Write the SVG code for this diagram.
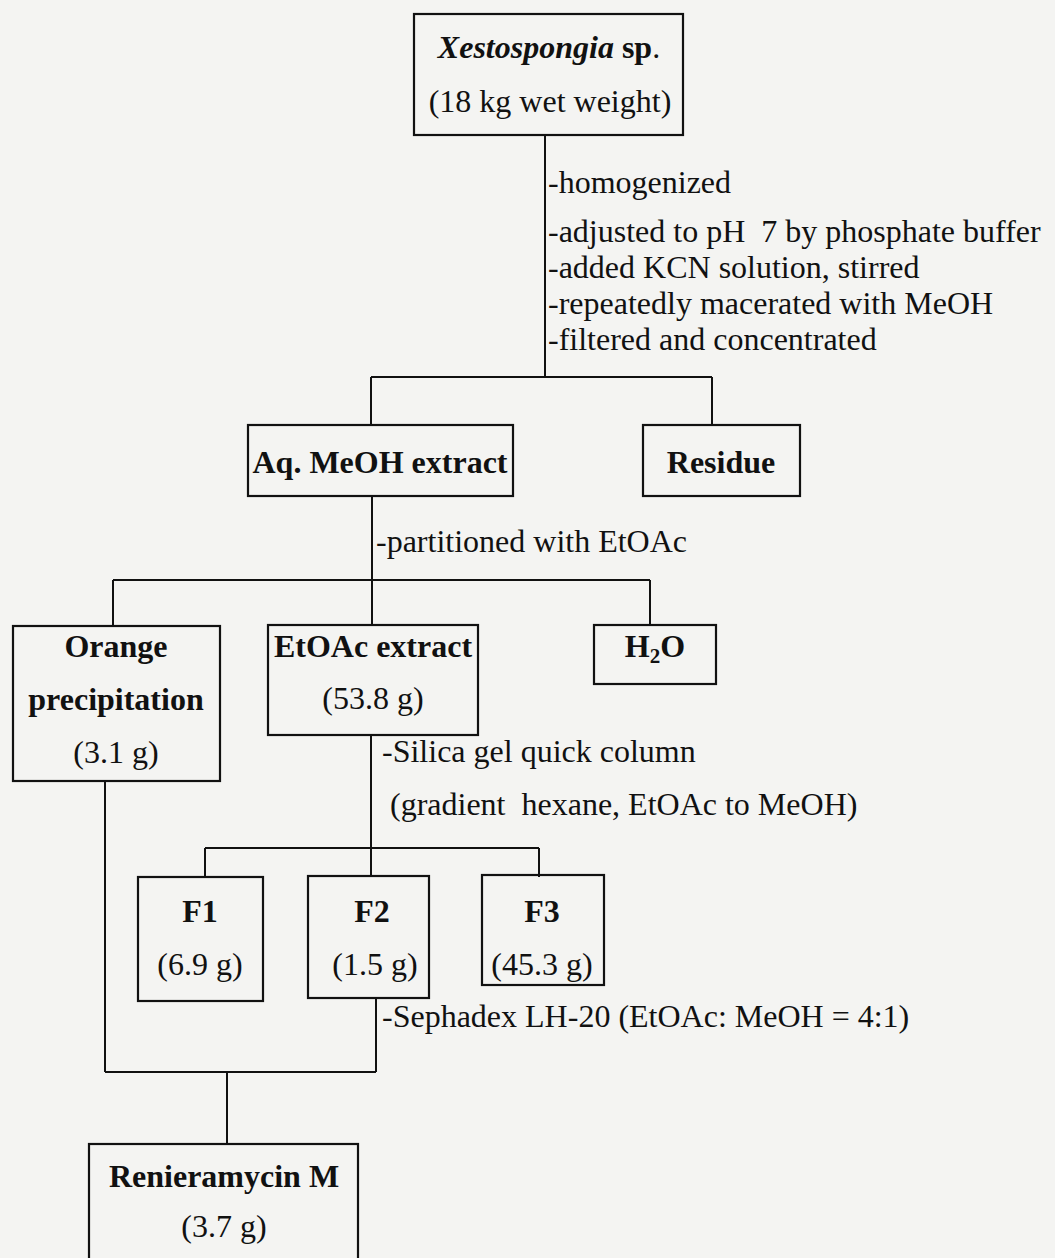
<svg xmlns="http://www.w3.org/2000/svg" width="1055" height="1258" viewBox="0 0 1055 1258">
<style>
.bg{fill:#f4f4f2}
.box{fill:none;stroke:#111;stroke-width:2.2}
.ln{fill:none;stroke:#111;stroke-width:2}
text{font-family:"Liberation Serif","Times New Roman",serif;font-size:32px;fill:#111}
.b{font-weight:bold}
.c{text-anchor:middle}
</style>
<rect class="bg" x="0" y="0" width="1055" height="1258"/>
<g id="connectors">
<path class="ln" d="M545 135V377M371 377H712M371 377V425M712 377V425"/>
<path class="ln" d="M372 496V580M113 580H650M113 580V625M372 580V625M650 580V625"/>
<path class="ln" d="M371 735V848M205 848H539M205 848V877M371 848V877M539 848V877"/>
<path class="ln" d="M376 998V1072M105 781V1072M105 1072H376M227 1072V1144"/>
<text x="548" y="193">-homogenized</text>
<text x="548" y="242">-adjusted to pH&#160; 7 by phosphate buffer</text>
<text x="548" y="278">-added KCN solution, stirred</text>
<text x="548" y="314">-repeatedly macerated with MeOH</text>
<text x="548" y="350">-filtered and concentrated</text>
<text x="376" y="552">-partitioned with EtOAc</text>
<text x="382" y="762">-Silica gel quick column</text>
<text x="390" y="815">(gradient&#160; hexane, EtOAc to MeOH)</text>
<text x="382" y="1027">-Sephadex LH-20 (EtOAc: MeOH = 4:1)</text>
</g>
<g id="node-xestospongia">
<rect class="box" x="414" y="14" width="269" height="121"/>
<text class="c" x="549" y="58"><tspan class="b" font-style="italic">Xestospongia</tspan><tspan class="b"> sp</tspan>.</text>
<text class="c" x="550" y="112">(18 kg wet weight)</text>
</g>
<g id="node-aq-meoh">
<rect class="box" x="248" y="425" width="265" height="71"/>
<text class="b c" x="380" y="473">Aq. MeOH extract</text>
</g>
<g id="node-residue">
<rect class="box" x="643" y="425" width="157" height="71"/>
<text class="b c" x="721" y="473">Residue</text>
</g>
<g id="node-orange">
<rect class="box" x="13" y="626" width="207" height="155"/>
<text class="b c" x="116" y="657">Orange</text>
<text class="b c" x="116" y="710">precipitation</text>
<text class="c" x="116" y="763">(3.1 g)</text>
</g>
<g id="node-etoac">
<rect class="box" x="268" y="625" width="210" height="110"/>
<text class="b c" x="373" y="657">EtOAc extract</text>
<text class="c" x="373" y="709">(53.8 g)</text>
</g>
<g id="node-h2o">
<rect class="box" x="594" y="625" width="122" height="59"/>
<text class="b c" x="655" y="657">H<tspan font-size="21" dy="6">2</tspan><tspan dy="-6">O</tspan></text>
</g>
<g id="node-f1">
<rect class="box" x="138" y="877" width="125" height="124"/>
<text class="b c" x="200" y="922">F1</text>
<text class="c" x="200" y="975">(6.9 g)</text>
</g>
<g id="node-f2">
<rect class="box" x="308" y="876" width="121" height="122"/>
<text class="b c" x="372" y="922">F2</text>
<text class="c" x="375" y="975">(1.5 g)</text>
</g>
<g id="node-f3">
<rect class="box" x="482" y="875" width="122" height="110"/>
<text class="b c" x="542" y="922">F3</text>
<text class="c" x="542" y="975">(45.3 g)</text>
</g>
<g id="node-renieramycin">
<rect class="box" x="89" y="1144" width="269" height="130"/>
<text class="b c" x="224" y="1187">Renieramycin M</text>
<text class="c" x="224" y="1237">(3.7 g)</text>
</g>
</svg>
